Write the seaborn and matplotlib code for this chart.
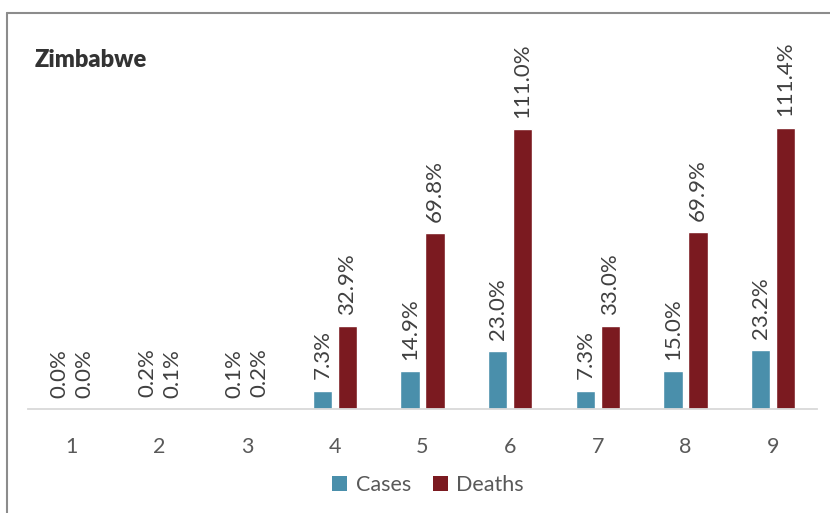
import matplotlib
matplotlib.use("Agg")
import matplotlib.pyplot as plt
from matplotlib.lines import Line2D
from matplotlib.patches import Patch
import seaborn as sns
import pandas as pd

# Percentage of cases and deaths per period
periods = ["1", "2", "3", "4", "5", "6", "7", "8", "9"]
cases = [0.0, 0.2, 0.1, 7.3, 14.9, 23.0, 7.3, 15.0, 23.2]
deaths = [0.0, 0.1, 0.2, 32.9, 69.8, 111.0, 33.0, 69.9, 111.4]
series_names = ["Cases", "Deaths"]
colors = {"Cases": "#4a8fab", "Deaths": "#7b1a20"}

df = pd.DataFrame({
    "period": periods * 2,
    "series": [series_names[0]] * len(periods) + [series_names[1]] * len(periods),
    "value": cases + deaths,
})

sns.set_theme(style="white")
plt.rcParams["font.family"] = ["Lato", "DejaVu Sans"]

fig = plt.figure(figsize=(8.3, 5.13), dpi=100)
ax = fig.add_axes([28 / 830, 104 / 513, 789 / 830, 389 / 513])

sns.barplot(data=df, x="period", y="value", hue="series", order=periods,
            hue_order=series_names, palette=colors, width=0.57, gap=0.22,
            saturation=1, ax=ax, legend=False)

ax.set_ylim(0, 154)
ax.set_xlim(-0.5, len(periods) - 0.5)
ax.set_xlabel("")
ax.set_ylabel("")
ax.set_yticks([])
for side in ["left", "right", "top"]:
    ax.spines[side].set_visible(False)
ax.spines["bottom"].set_color("#d9d9d9")
ax.spines["bottom"].set_linewidth(1.3)
ax.tick_params(axis="x", length=0, pad=20, labelsize=15.5, labelcolor="#595959")

# value labels above each bar
for container in ax.containers:
    ax.bar_label(container, fmt="%.1f%%", rotation=90, padding=8,
                 fontsize=16, color="#404040")

# title
fig.text(35 / 830, 1 - 60 / 513, "Zimbabwe", fontsize=17, fontweight="heavy",
         color="#333333", va="center", ha="left")

# legend
handles = [Patch(facecolor=colors[s], edgecolor="none", label=s) for s in series_names]
fig.legend(handles=handles, loc="center", bbox_to_anchor=(428 / 830, 1 - 485 / 513),
           ncol=2, frameon=False, fontsize=15.5, labelcolor="#595959",
           handlelength=0.7, handleheight=0.7, handletextpad=0.4, columnspacing=1.0)

# frame lines along the top and left edge
fig.add_artist(Line2D([7 / 830, 1], [1 - 13 / 513, 1 - 13 / 513],
                      transform=fig.transFigure, color="#8c8c8c", linewidth=1.5))
fig.add_artist(Line2D([7 / 830, 7 / 830], [0, 1 - 13 / 513],
                      transform=fig.transFigure, color="#8c8c8c", linewidth=1.5))

fig.savefig("out.png", dpi=100)
